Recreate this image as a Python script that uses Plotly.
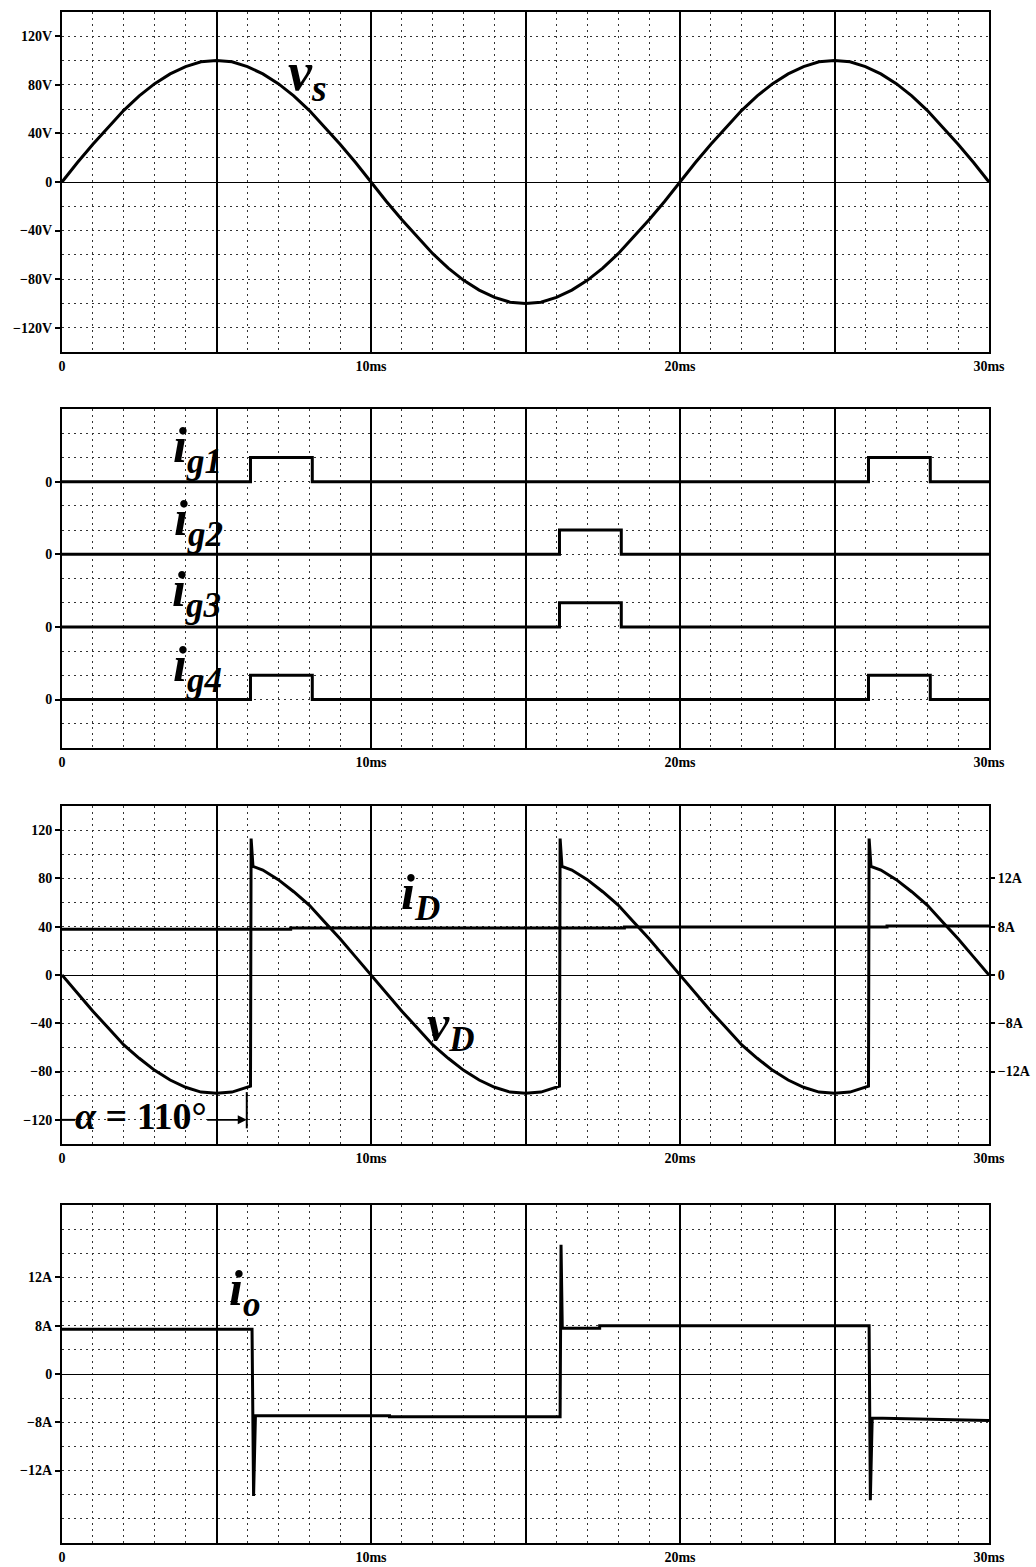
import plotly.graph_objects as go

# ---------------- data (time in ms) ----------------
t_vs = [0, 0.5, 1, 1.5, 2, 2.5, 3, 3.5, 4, 4.5, 5, 5.5, 6, 6.5, 7, 7.5, 8, 8.5, 9, 9.5,
        10, 10.5, 11, 11.5, 12, 12.5, 13, 13.5, 14, 14.5, 15, 15.5, 16, 16.5, 17, 17.5,
        18, 18.5, 19, 19.5, 20, 20.5, 21, 21.5, 22, 22.5, 23, 23.5, 24, 24.5, 25, 25.5,
        26, 26.5, 27, 27.5, 28, 28.5, 29, 29.5, 30]
vs = [0, 16, 31, 45, 59, 71, 81, 89, 95, 99, 100, 99, 95, 89, 81, 71, 59, 45, 31, 16,
      0, -16, -31, -45, -59, -71, -81, -89, -95, -99, -100, -99, -95, -89, -81, -71,
      -59, -45, -31, -16, 0, 16, 31, 45, 59, 71, 81, 89, 95, 99, 100, 99, 95, 89, 81,
      71, 59, 45, 31, 16, 0]

# gate pulses (step form)
t_g14 = [0, 6.1, 8.1, 26.1, 28.1, 30]
ig1 = [0, 1, 0, 1, 0, 0]
ig4 = [0, 1, 0, 1, 0, 0]
t_g23 = [0, 16.1, 18.1, 30]
ig2 = [0, 1, 0, 0]
ig3 = [0, 1, 0, 0]

# load voltage vD (V)
t_vd = [0, 0.5, 1, 1.5, 2, 2.5, 3, 3.5, 4, 4.5, 5, 5.5, 6, 6.1, 6.12, 6.18,
        6.5, 7, 7.5, 8, 8.5, 9, 9.5, 10, 10.5, 11, 11.5, 12, 12.5, 13, 13.5, 14,
        14.5, 15, 15.5, 16, 16.1, 16.12, 16.18,
        16.5, 17, 17.5, 18, 18.5, 19, 19.5, 20, 20.5, 21, 21.5, 22, 22.5, 23, 23.5, 24,
        24.5, 25, 25.5, 26, 26.1, 26.12, 26.18,
        26.5, 27, 27.5, 28, 28.5, 29, 29.5, 30]
vd = [0, -15, -30, -44, -58, -69, -79, -87, -93, -97, -98, -97, -93, -92, 113, 90,
      87, 79, 69, 58, 44, 30, 15, 0, -15, -30, -44, -58, -69, -79, -87, -93,
      -97, -98, -97, -93, -92, 113, 90,
      87, 79, 69, 58, 44, 30, 15, 0, -15, -30, -44, -58, -69, -79, -87, -93,
      -97, -98, -97, -93, -92, 113, 90,
      87, 79, 69, 58, 44, 30, 15, 0]

# load current iD (A)
t_id = [0, 7.4, 7.4, 18.2, 18.2, 26.7, 26.7, 30]
i_d = [7.6, 7.6, 7.8, 7.8, 7.95, 7.95, 8.1, 8.1]

# output current io (A)
t_io = [0, 6.15, 6.2, 6.26, 10.6, 10.6, 16.12, 16.15, 16.19, 17.4, 17.4,
        26.12, 26.16, 26.22, 30]
i_o = [7.4, 7.4, -20.2, -6.9, -6.9, -7.1, -7.1, 21.4, 7.6, 7.6, 8.0,
       8.0, -20.9, -7.3, -7.7]

# axis labels
x_ticks = [0, 5, 10, 15, 20, 25, 30]
x_labels = ["0", "", "10ms", "", "20ms", "", "30ms"]
vs_ticks = [-120, -80, -40, 0, 40, 80, 120]
vs_labels = ["\u2212120V", "\u221280V", "\u221240V", "0", "40V", "80V", "120V"]
gate_ticks = [0, 3, 6, 9]
gate_labels = ["0", "0", "0", "0"]
vd_ticks = [-120, -80, -40, 0, 40, 80, 120]
vd_labels = ["\u2212120", "\u221280", "\u221240", "0", "40", "80", "120"]
amp_ticks = [-16, -8, 0, 8, 16]
amp_labels = ["\u221212A", "\u22128A", "0", "8A", "12A"]

# gate traces are stacked with these baselines
g_base = {"ig1": 9, "ig2": 6, "ig3": 3, "ig4": 0}

# ---------------- figure ----------------
W, H = 1036, 1567
FONT = "Liberation Serif"
XD = [62 / W, 989 / W]


def ydom(top, bot):
    return [1 - bot / H, 1 - top / H]


DOT = "2px,4px"
tickfont = dict(family=FONT, size=14, color="black", weight="bold")

fig = go.Figure()
lw = 3

fig.add_trace(go.Scatter(x=t_vs, y=vs, mode="lines", line=dict(color="black", width=lw),
                         xaxis="x", yaxis="y"))
for name, t, g in [("ig1", t_g14, ig1), ("ig2", t_g23, ig2),
                   ("ig3", t_g23, ig3), ("ig4", t_g14, ig4)]:
    fig.add_trace(go.Scatter(x=t, y=[v + g_base[name] for v in g], mode="lines",
                             line=dict(color="black", width=lw, shape="hv"),
                             xaxis="x2", yaxis="y2"))
fig.add_trace(go.Scatter(x=t_vd, y=vd, mode="lines", line=dict(color="black", width=lw),
                         xaxis="x3", yaxis="y3"))
fig.add_trace(go.Scatter(x=t_id, y=i_d, mode="lines", line=dict(color="black", width=lw),
                         xaxis="x3", yaxis="y5"))
fig.add_trace(go.Scatter(x=t_io, y=i_o, mode="lines", line=dict(color="black", width=lw),
                         xaxis="x4", yaxis="y4"))


def xaxis(anchor):
    return dict(domain=XD, anchor=anchor, range=[0, 30], showline=True, mirror=True,
                linecolor="black", linewidth=2, tickvals=x_ticks, ticktext=x_labels,
                showgrid=True, gridcolor="black", gridwidth=1.5, zeroline=False,
                ticks="", tickfont=tickfont, automargin=False,
                minor=dict(dtick=1, showgrid=True, griddash=DOT, gridcolor="#333",
                           gridwidth=1))


def yaxis(anchor, dom, rng, tv, tt, mdt, zero=True):
    return dict(domain=dom, anchor=anchor, range=rng, showline=True, mirror=True,
                linecolor="black", linewidth=2, tickvals=tv, ticktext=tt,
                ticks="outside", ticklen=5, tickwidth=1.5, tickcolor="black",
                tickfont=tickfont, showgrid=True, griddash=DOT, gridcolor="#333",
                gridwidth=1, zeroline=zero, zerolinecolor="black", zerolinewidth=1.2,
                automargin=False,
                minor=dict(dtick=mdt, showgrid=True, griddash=DOT, gridcolor="#333",
                           gridwidth=1, ticks=""))


fig.update_layout(
    width=W, height=H, autosize=False, margin=dict(l=0, r=0, t=0, b=0),
    paper_bgcolor="white", plot_bgcolor="white", showlegend=False,
    xaxis=xaxis("y"), xaxis2=xaxis("y2"), xaxis3=xaxis("y3"), xaxis4=xaxis("y4"),
    yaxis=yaxis("x", ydom(12, 352), [-140, 140], vs_ticks, vs_labels, 20),
    yaxis2=yaxis("x2", ydom(409, 748), [-2, 12], gate_ticks, gate_labels, 1, zero=False),
    yaxis3=yaxis("x3", ydom(806, 1144), [-140, 140], vd_ticks, vd_labels, 20),
    yaxis4=yaxis("x4", ydom(1205, 1543), [-28, 28], amp_ticks, amp_labels, 4),
    yaxis5=dict(overlaying="y3", anchor="x3", side="right", range=[-28, 28],
                tickvals=amp_ticks, ticktext=amp_labels, ticks="outside", ticklen=5,
                tickwidth=1.5, tickcolor="black", tickfont=tickfont, showgrid=False,
                zeroline=False, showline=False, automargin=False),
)


# ---------------- waveform names ----------------
def name(text, x, y, xr, yr, size=50):
    fig.add_annotation(text=f"<b><i>{text}</i></b>", x=x, y=y, xref=xr, yref=yr,
                       showarrow=False, xanchor="center", yanchor="middle",
                       font=dict(family=FONT, size=size, color="black"))


name("v<sub>s</sub>", 7.93, 88, "x", "y", 54)
name("i<sub>g1</sub>", 4.37, 10.35, "x2", "y2")
name("i<sub>g2</sub>", 4.42, 7.34, "x2", "y2")
name("i<sub>g3</sub>", 4.35, 4.4, "x2", "y2")
name("i<sub>g4</sub>", 4.37, 1.3, "x2", "y2")
name("i<sub>D</sub>", 11.59, 65.7, "x3", "y3")
name("v<sub>D</sub>", 12.57, -43.1, "x3", "y3")
name("i<sub>o</sub>", 5.92, 13.6, "x4", "y4")

# firing angle marker
alpha_deg = 110
alpha_ms = 5.98
fig.add_annotation(text=f"<b><i>\u03b1</i> = {alpha_deg}\u00b0</b>", x=2.56, y=-117,
                   xref="x3", yref="y3", showarrow=False, xanchor="center",
                   yanchor="middle", font=dict(family=FONT, size=38, color="black"))
fig.add_annotation(text="", x=alpha_ms, y=-120, ax=4.65, ay=-120, xref="x3", yref="y3",
                   axref="x3", ayref="y3", showarrow=True, arrowhead=2, arrowsize=1,
                   arrowwidth=1.8, arrowcolor="black")
fig.add_shape(type="line", x0=alpha_ms, x1=alpha_ms, y0=-97, y1=-127, xref="x3",
              yref="y3", line=dict(color="black", width=2))
fig.add_shape(type="line", x0=0, x1=0.42, y0=-120, y1=-120, xref="x3", yref="y3",
              line=dict(color="black", width=2))

fig.write_html("out.html")
